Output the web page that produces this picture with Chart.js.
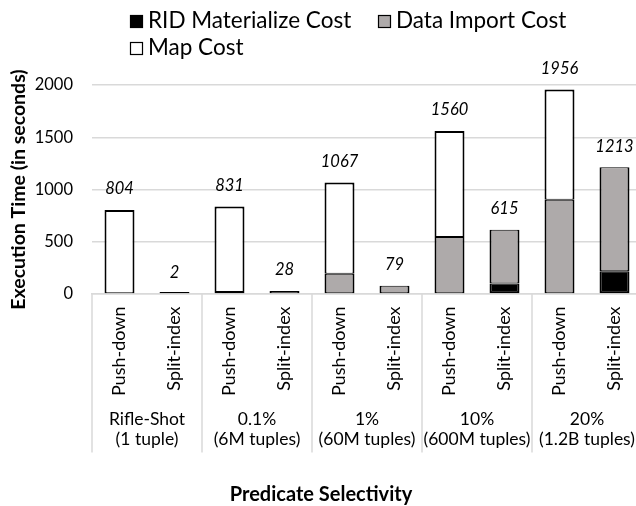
<!DOCTYPE html>
<html><head><meta charset="utf-8">
<script src="https://cdn.jsdelivr.net/npm/chart.js@4"></script>
<style>
html,body{margin:0;padding:0;background:#fff;overflow:hidden;}
#wrap{position:relative;width:654px;height:506px;}
</style></head><body>
<div id="wrap"><canvas id="c" width="654" height="506"></canvas></div>
<script>
// ---- data ----
const barLabels = ['Push-down','Split-index','Push-down','Split-index','Push-down','Split-index','Push-down','Split-index','Push-down','Split-index'];
const groupLabels = [['Rifle-Shot','(1 tuple)'],['0.1%','(6M tuples)'],['1%','(60M tuples)'],['10%','(600M tuples)'],['20%','(1.2B tuples)']];
const ridCost    = [null, null, null, null, null, null, null, 100, null, 218];
const importCost = [null, 2,    12,   28,   193,  79,   546,  515,  902,  995];
const mapCost    = [804,  null, 819,  null, 874,  null, 1014, null, 1054, null];
const yTicks = [0, 500, 1000, 1500, 2000];
const seriesNames = ['RID Materialize Cost','Data Import Cost','Map Cost'];

const FONT = 'Lato, "Open Sans", sans-serif';
Chart.defaults.font.family = FONT;
Chart.defaults.color = '#000';

const GRID = '#d9d9d9';
const GRAY = '#aeaaaa';

const legendPlugin = {
  id: 'customLegend',
  afterDraw(chart) {
    const ctx = chart.ctx;
    const spots = [[130, 15], [378, 15], [130, 42]];
    ctx.save();
    ctx.font = '22.5px ' + FONT;
    ctx.textBaseline = 'alphabetic';
    ctx.textAlign = 'left';
    chart.data.datasets.forEach((ds, i) => {
      const [bx, by] = spots[i];
      ctx.fillStyle = ds.backgroundColor;
      ctx.fillRect(bx, by, 13, 13);
      ctx.strokeStyle = '#000';
      ctx.lineWidth = 1.2;
      ctx.strokeRect(bx + 0.5, by + 0.5, 12, 12);
      ctx.fillStyle = '#000';
      ctx.fillText(ds.label, bx + 18, by + 13);
    });
    ctx.restore();
  }
};

const totalsPlugin = {
  id: 'totals',
  afterDatasetsDraw(chart) {
    const ctx = chart.ctx;
    const xs = chart.scales.x, ys = chart.scales.y;
    ctx.save();
    ctx.font = 'italic 16.5px ' + FONT;
    ctx.textAlign = 'center';
    ctx.textBaseline = 'middle';
    ctx.fillStyle = '#000';
    barLabels.forEach((_, i) => {
      const total = (ridCost[i] || 0) + (importCost[i] || 0) + (mapCost[i] || 0);
      ctx.fillText(String(total), xs.getPixelForValue(i), ys.getPixelForValue(total) - 21);
    });
    ctx.restore();
  }
};

const separatorPlugin = {
  id: 'separators',
  afterDraw(chart) {
    const ctx = chart.ctx;
    const xs = chart.scales.x, gs = chart.scales.groups;
    const cat = xs.getPixelForValue(1) - xs.getPixelForValue(0);
    ctx.save();
    ctx.strokeStyle = GRID;
    ctx.lineWidth = 1.5;
    for (let k = 0; k <= groupLabels.length; k++) {
      const px = xs.getPixelForValue(2 * k) - cat / 2;
      ctx.beginPath();
      ctx.moveTo(px, chart.chartArea.bottom);
      ctx.lineTo(px, gs.top + 48.5);
      ctx.stroke();
    }
    ctx.restore();
  }
};

const mkBorder = (top, bottom) => ({top: top, bottom: bottom, left: 2, right: 2});

new Chart(document.getElementById('c'), {
  type: 'bar',
  data: {
    labels: barLabels,
    datasets: [
      {label: seriesNames[0], data: ridCost, backgroundColor: '#000000', borderColor: '#000', borderWidth: mkBorder(1, 2), borderSkipped: false, barPercentage: 0.545, categoryPercentage: 1},
      {label: seriesNames[1], data: importCost, backgroundColor: GRAY, borderColor: '#000', borderWidth: mkBorder(1, 1), borderSkipped: false, barPercentage: 0.545, categoryPercentage: 1, minBarLength: 2},
      {label: seriesNames[2], data: mapCost, backgroundColor: '#ffffff', borderColor: '#000', borderWidth: mkBorder(2, 1), borderSkipped: false, barPercentage: 0.545, categoryPercentage: 1}
    ]
  },
  options: {
    responsive: false,
    animation: false,
    layout: {padding: {top: 85, left: 0, right: 12, bottom: 0}},
    plugins: {
      legend: {display: false},
      tooltip: {enabled: false},
      title: {display: true, text: 'Predicate Selectivity', position: 'bottom', color: '#000',
              font: {size: 20, weight: 'bold', lineHeight: 1.1}, padding: {top: 0, bottom: 0}}
    },
    scales: {
      x: {
        stacked: true, position: 'bottom', weight: 0,
        grid: {display: false, drawTicks: false},
        border: {display: true, color: GRID, width: 1.5},
        ticks: {minRotation: 90, maxRotation: 90, autoSkip: false, padding: 12.5, font: {size: 18}},
        afterFit(s) { s.height = 110; }
      },
      groups: {
        type: 'category', labels: groupLabels, position: 'bottom', weight: 1, offset: true,
        grid: {display: false, drawTicks: false},
        border: {display: false},
        ticks: {autoSkip: false, maxRotation: 0, minRotation: 0, padding: 6, font: {size: 17.5, lineHeight: 1.1}},
        afterFit(s) { s.height = 80; }
      },
      y: {
        stacked: true, min: yTicks[0], max: yTicks[yTicks.length - 1],
        afterBuildTicks(s) { s.ticks = yTicks.map(v => ({value: v})); },
        ticks: {padding: 19, font: {size: 16.5}, callback: v => String(v)},
        grid: {color: GRID, lineWidth: 1.5, drawTicks: false},
        border: {display: false},
        title: {display: true, text: 'Execution Time (in seconds)', font: {size: 19.5, weight: 'bold'}, padding: {top: 7, bottom: 0}},
        afterFit(s) { s.width = 92; }
      }
    }
  },
  plugins: [legendPlugin, totalsPlugin, separatorPlugin]
});
</script>
</body></html>
